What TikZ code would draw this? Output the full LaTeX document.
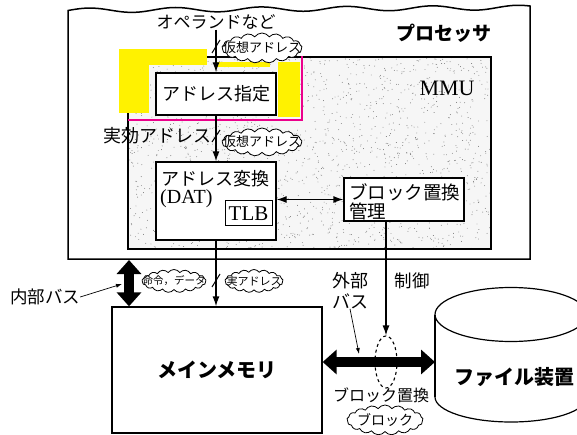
\documentclass[tikz,border=0pt]{standalone}
\usepackage{fontspec}
\setmainfont{Liberation Serif}
\newfontfamily\jp{Noto Sans CJK JP}
\usetikzlibrary{arrows.meta,shapes.symbols,shapes.geometric}
\begin{document}
\begin{tikzpicture}[x=1pt,y=-1pt,
  box/.style={draw, line width=1.3pt, fill=white, inner sep=0pt},
  jt/.style={font=\jp\fontsize{#1}{#1}\selectfont, inner sep=0pt},
  jt/.default=17,
  jb/.style={font=\jp\bfseries\fontsize{#1}{#1}\selectfont, inner sep=0pt},
  rt/.style={font=\fontsize{#1}{#1}\selectfont, inner sep=0pt},
  cloudbox/.style={cloud, draw, cloud puffs=17, cloud puff arc=110, cloud ignores aspect, fill=white, line width=0.8pt, inner sep=0pt},
  arr/.style={-{Latex[length=10pt,width=7pt]}, line width=1.3pt},
  darr/.style={{Latex[length=10pt,width=7pt]}-{Latex[length=10pt,width=7pt]}, line width=1.3pt},
  thinarr/.style={-{Latex[length=6pt,width=4pt]}, line width=0.7pt},
  slashmark/.style={line width=1pt},
  fat/.style={line width=10pt, {Triangle[length=14pt,width=24pt]}-{Triangle[length=14pt,width=24pt]}},
]
\useasboundingbox (0,0) rectangle (577,435);
\fill[white] (0,0) rectangle (577,435);

% processor frame
\draw[line width=1.5pt] (68,259) -- (68,12) -- plot[domain=68:530,samples=160] (\x,{10.5-3*(\x-68)/462-2.3*sin(4.2*(\x-68))}) -- (530,259) -- cycle;
\node[jb=19] (proc) at (444,33) {プロセッサ};

% MMU stippled area
\fill[gray!7] (128,57) rectangle (491,249);
\pgfmathsetseed{7}
\foreach \i in {1,...,1800}{\fill[black!55] ({128+363*rnd},{57+192*rnd}) circle (0.45pt);}
\draw[line width=1.5pt] (128,57) rectangle (491,249);
\node[rt=22] (mmu) at (447,88) {MMU};

% highlight marks
\fill[yellow] (119,49) rectangle (207,65);
\fill[yellow] (119,65) rectangle (149,113);
\fill[yellow] (215,62) rectangle (270,67);
\fill[yellow] (278,62) rectangle (300,117);
\draw[magenta, line width=1.8pt] (128,120) -- (302,120) -- (302,56);

% nodes
\node[jt=17] (opnd) at (216,22) {オペランドなど};
\node[box, jt=18, minimum width=120pt, minimum height=42pt] (addr) at (216,94) {アドレス指定};
\node[jt=18, anchor=east] (eff) at (212,136) {実効アドレス};
\node[box, minimum width=120pt, minimum height=78pt] (dat) at (216,201) {};
\node[jt=18, anchor=west] (datl) at (161,178.5) {アドレス変換};
\node[rt=20, anchor=west] (datl2) at (160,199) {(DAT)};
\node[box, line width=1pt, rt=21, minimum width=47pt, minimum height=25pt] (tlb) at (248.5,213.5) {TLB};
\node[box, minimum width=120pt, minimum height=43pt] (blk) at (404,199.5) {};
\node[jt=18.5, anchor=west] (blkl) at (349,192) {ブロック置換};
\node[jt=18.5, anchor=west] (blkl2) at (349,211) {管理};

\node[box, jb=20, minimum width=210pt, minimum height=126pt] (mem) at (217,370) {メインメモリ};

% file device cylinder
\begin{scope}
\clip (420,280) rectangle (577,435);
\draw[line width=1.2pt] (511,314.5) ellipse [x radius=76, y radius=27];
\draw[line width=1.2pt] (435,314.5) -- (435,397);
\begin{scope}
\clip (425,397) rectangle (590,435);
\draw[line width=1.2pt] (511,397) ellipse [x radius=76, y radius=25];
\end{scope}
\end{scope}
\node[jb=20] (file) at (514,377) {ファイル装置};
\coordinate (fileL) at (435,362);

% dashed ellipse
\node[ellipse, draw, dashed, line width=1.1pt, minimum width=22pt, minimum height=52pt, inner sep=0pt] (ell) at (386,362) {};

% clouds
\node[cloudbox, minimum width=80pt, minimum height=30pt] (c1) at (262,48) {};
\node[jt=13] at (c1) {仮想アドレス};
\node[cloudbox, minimum width=80pt, minimum height=28pt] (c2) at (262,142) {};
\node[jt=13] at (c2) {仮想アドレス};
\node[cloudbox, minimum width=64pt, minimum height=23pt] (c3) at (174,281) {};
\node[jt=10.5] at (c3) {命令，データ};
\node[cloudbox, minimum width=58pt, minimum height=23pt] (c4) at (254,281) {};
\node[jt=11] at (c4) {実アドレス};
\node[cloudbox, minimum width=76pt, minimum height=30pt] (c5) at (385,420) {};
\node[jt=14] at (c5) {ブロック};

% labels
\node[jt=17.5] (ibl) at (45,297) {内部バス};
\node[jt=18] (gb1) at (350,281) {外部};
\node[jt=18] (gb2) at (350,301) {バス};
\node[jt=17.5] (ctl) at (412,281) {制御};
\node[jt=16] (brp) at (381,395) {ブロック置換};
\coordinate (ibtip) at (122,284);
\coordinate (gbtip) at (359,354);
\coordinate (ibtop) at (129,260);

% connectors
\draw[arr] (opnd.south) -- (addr.north);
\draw[arr] (addr.south) -- (dat.north);
\draw[arr] (dat.south) -- (dat.south |- mem.north);
\draw[darr] (dat.east |- blk.west) -- (blk.west);
\draw[arr] (blk.south -| ell.north) -- (ell.north);
\draw[fat] (ibtop) -- (ibtop |- mem.north);
\draw[fat] (mem.east |- ell.center) -- (fileL);
\draw[thinarr] (ibl.east) -- (ibtip);
\draw[thinarr] (gb2.south) -- (gbtip);

% slash marks
\draw[slashmark] (212,53) -- (220,40);
\draw[slashmark] (212,142) -- (220,130);
\draw[slashmark] (212,287) -- (220,274);
\end{tikzpicture}
\end{document}
